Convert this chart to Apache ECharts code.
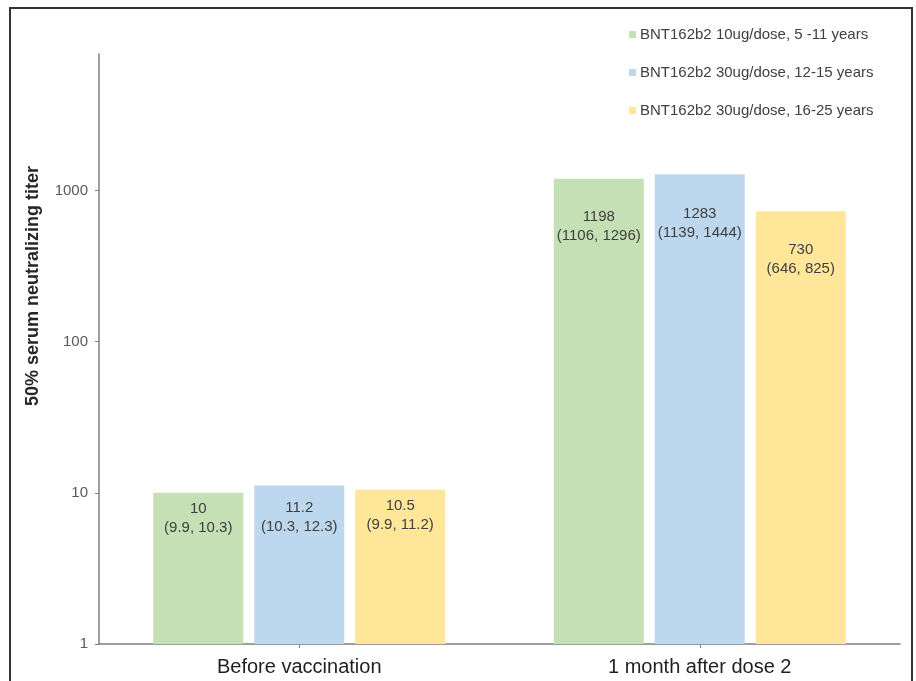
<!DOCTYPE html>
<html>
<head>
<meta charset="utf-8">
<title>Neutralizing titers by age group</title>
<script src="https://cdn.jsdelivr.net/npm/echarts@6/dist/echarts.min.js"></script>
<style>
  html, body { margin: 0; padding: 0; background: #fff; }
  #wrap { position: relative; width: 916px; height: 681px; overflow: hidden; }
  #chart { position: absolute; left: 0; top: 0; width: 916px; height: 681px; }
  #frame { position: absolute; left: 9px; top: 7px; width: 900px; height: 700px;
           border: 2px solid #333; pointer-events: none; }
</style>
</head>
<body>
<div id="wrap">
  <div id="chart"></div>
  <div id="frame"></div>
</div>
<script>
// Time points on the x axis
const categories = ['Before vaccination', '1 month after dose 2'];

// Group names and geometric mean titers with 95% CI per time point
const seriesNames = [
  'BNT162b2 10ug/dose, 5 -11 years',
  'BNT162b2 30ug/dose, 12-15 years',
  'BNT162b2 30ug/dose, 16-25 years'
];
const gmt5to11 = [10, 1198];
const gmt12to15 = [11.2, 1283];
const gmt16to25 = [10.5, 730];
const ci5to11 = ['(9.9, 10.3)', '(1106, 1296)'];
const ci12to15 = ['(10.3, 12.3)', '(1139, 1444)'];
const ci16to25 = ['(9.9, 11.2)', '(646, 825)'];

// Labelled ticks on the log-scale y axis
const yTicks = [1, 10, 100, 1000];

const colors = ['#C5E0B4', '#BDD7EE', '#FFE699'];
const labelDistance = [[7, 29], [13, 30], [7, 29]];

const chart = echarts.init(document.getElementById('chart'), null, { renderer: 'canvas' });

function makeSeries(idx, values, cis) {
  return {
    name: seriesNames[idx],
    type: 'bar',
    barWidth: 90,
    barGap: '12.2%',
    itemStyle: { color: colors[idx] },
    data: values.map((v, i) => ({
      value: v,
      label: { distance: labelDistance[idx][i] }
    })),
    label: {
      show: true,
      position: 'insideTop',
      color: '#404040',
      fontFamily: 'Liberation Sans, Arial, sans-serif',
      fontSize: 15,
      lineHeight: 19,
      align: 'center',
      formatter: p => p.value + '\n' + cis[p.dataIndex]
    },
    emphasis: { disabled: true }
  };
}

chart.setOption({
  animation: false,
  backgroundColor: 'transparent',
  textStyle: { fontFamily: 'Liberation Sans, Arial, sans-serif' },
  grid: { left: 99, right: 16, top: 54, bottom: 37, containLabel: false },
  legend: {
    orient: 'vertical',
    left: 624,
    top: 22,
    itemWidth: 7,
    itemHeight: 7,
    itemGap: 23,
    icon: 'rect',
    textStyle: { color: '#404040', fontSize: 15, padding: [0, 0, 0, -1] },
    data: seriesNames
  },
  graphic: [{
    type: 'text',
    x: 33,
    y: 286,
    rotation: Math.PI / 2,
    style: {
      text: '50% serum neutralizing titer',
      font: 'bold 18px "Liberation Sans", Arial, sans-serif',
      fill: '#262626',
      align: 'center',
      verticalAlign: 'middle'
    }
  }],
  xAxis: {
    type: 'category',
    data: categories,
    axisLine: { lineStyle: { color: '#7f7f7f', width: 1.5 } },
    axisTick: { show: true, alignWithLabel: true, length: 4, lineStyle: { color: '#7f7f7f' } },
    axisLabel: { color: '#1f1f1f', fontSize: 20, margin: 13 }
  },
  yAxis: {
    type: 'log',
    logBase: 10,
    min: 1,
    max: 8000,
    axisLine: { show: true, lineStyle: { color: '#7f7f7f', width: 1.5 } },
    axisTick: { show: true, length: 4, customValues: yTicks, lineStyle: { color: '#7f7f7f' } },
    axisLabel: {
      color: '#595959', fontSize: 15, margin: 11, customValues: yTicks,
      formatter: v => String(Math.round(v))
    },
    splitLine: { show: false }
  },
  series: [
    makeSeries(0, gmt5to11, ci5to11),
    makeSeries(1, gmt12to15, ci12to15),
    makeSeries(2, gmt16to25, ci16to25)
  ]
});
</script>
</body>
</html>
